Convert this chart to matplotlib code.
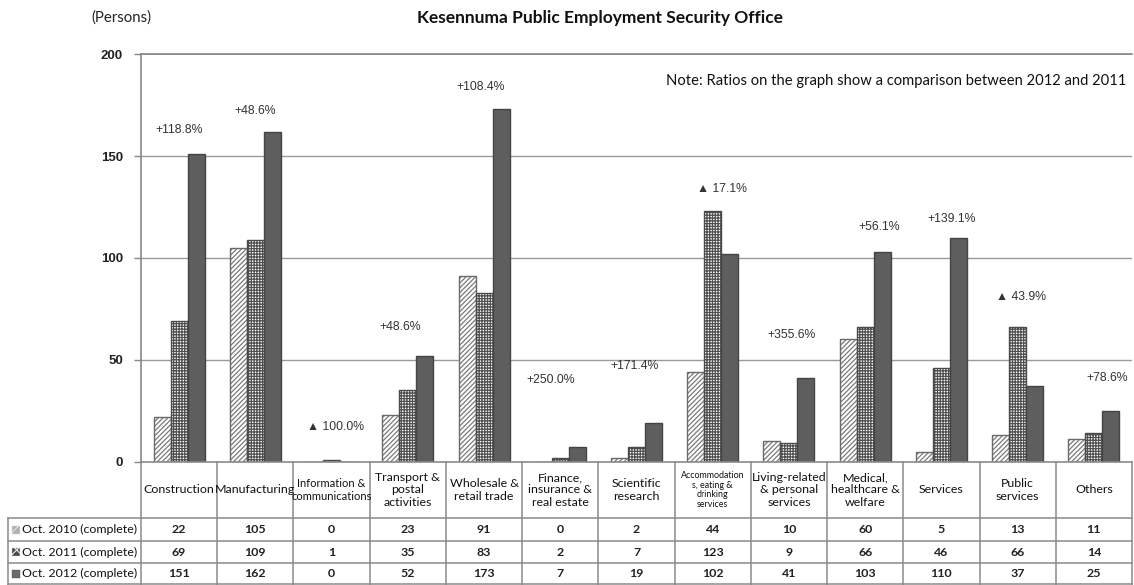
import matplotlib
matplotlib.use("Agg")
import matplotlib.pyplot as plt
from matplotlib.patches import Rectangle
import numpy as np

categories = ["Construction", "Manufacturing", "Information &\ncommunications",
              "Transport &\npostal\nactivities", "Wholesale &\nretail trade",
              "Finance,\ninsurance &\nreal estate", "Scientific\nresearch",
              "Accommodation\ns, eating &\ndrinking\nservices",
              "Living-related\n& personal\nservices", "Medical,\nhealthcare &\nwelfare",
              "Services", "Public\nservices", "Others"]
series_names = ["Oct. 2010 (complete)", "Oct. 2011 (complete)", "Oct. 2012 (complete)"]
oct2010 = [22, 105, 0, 23, 91, 0, 2, 44, 10, 60, 5, 13, 11]
oct2011 = [69, 109, 1, 35, 83, 2, 7, 123, 9, 66, 46, 66, 14]
oct2012 = [151, 162, 0, 52, 173, 7, 19, 102, 41, 103, 110, 37, 25]
ratio_labels = ["+118.8%", "+48.6%", "▲ 100.0%", "+48.6%", "+108.4%", "+250.0%",
                "+171.4%", "▲ 17.1%", "+355.6%", "+56.1%", "+139.1%", "▲ 43.9%", "+78.6%"]
yticks = [0, 50, 100, 150, 200]

# layout for ratio annotations (data-unit heights and x offsets)
ratio_y = [163, 172, 17, 66, 184, 40, 47, 134, 62, 115, 119, 81, 41]
ratio_dx = [0.0, 0.0, 0.05, -0.1, -0.04, -0.13, -0.03, 0.12, 0.04, 0.19, 0.14, 0.04, 0.18]

plt.rcParams["hatch.linewidth"] = 0.9

W, H = 1134, 585
fig = plt.figure(figsize=(W / 100, H / 100), dpi=100)
left_px, right_px, top_px, base_px = 141, 1132, 54.3, 461.7
ax = fig.add_axes([left_px / W, 1 - base_px / H, (right_px - left_px) / W, (base_px - top_px) / H])

n = len(categories)
x = np.arange(n)
bw = 0.223
grid_c = "#9a9a9a"

for yv in yticks[1:]:
    ax.axhline(yv, color="#888888" if yv == 200 else grid_c, lw=1.2 if yv == 200 else 1.0, zorder=0)

# 2010 bars: diagonal hatch
ax.bar(x - bw, oct2010, bw, facecolor="white", edgecolor="#7a7a7a", hatch="///////", lw=0, zorder=2)
ax.bar(x - bw, oct2010, bw, facecolor="none", edgecolor="#6a6a6a", lw=1.0, zorder=3)
# 2011 bars: checker
ax.bar(x, oct2011, bw, facecolor="white", edgecolor="#505050", hatch="++++++", lw=0, zorder=2)
ax.bar(x, oct2011, bw, facecolor="none", edgecolor="#4a4a4a", lw=1.0, zorder=3)
# 2012 bars: dark solid
ax.bar(x + bw, oct2012, bw, facecolor="#5e5e5e", edgecolor="#444444", lw=1.0, zorder=3)

pct_font = ["Liberation Sans Narrow", "Liberation Sans", "DejaVu Sans"]
for i, lab in enumerate(ratio_labels):
    ax.text(i + ratio_dx[i], ratio_y[i], lab, ha="center", va="center", fontsize=8.8,
            color="#333333", family=pct_font, zorder=4)

ax.text(0.994, 0.935, "Note: Ratios on the graph show a comparison between 2012 and 2011",
        transform=ax.transAxes, ha="right", va="center", fontsize=10.6, family="Lato", color="#111111")

ax.set_xlim(-0.5, n - 0.5)
ax.set_ylim(0, 200)
ax.set_xticks([])
ax.set_yticks(yticks)
ax.set_yticklabels([str(v) for v in yticks], fontsize=9.5, fontweight="bold",
                   family=pct_font, color="#222222")
ax.tick_params(axis="y", length=5, width=1.0, color="#888888", pad=8)
for s in ["right", "bottom"]:
    ax.spines[s].set_visible(False)
ax.spines["left"].set_color("#888888")
ax.spines["left"].set_linewidth(1.2)
ax.spines["top"].set_color("#888888")
ax.spines["top"].set_linewidth(1.2)

# ---- table below the plot (x in category units, y in pixels below baseline) ----
tab_h = H - base_px
tax = fig.add_axes([left_px / W, 0, (right_px - left_px) / W, tab_h / H])
tax.set_xlim(-0.5, n - 0.5)
tax.set_ylim(tab_h, 0)
tax.axis("off")
colw_px = (right_px - left_px) / n
lab_left = -0.5 - (left_px - 8) / colw_px
line_c = "#8a8a8a"
row_edges = [0, 56.5, 79.5, 101.5, tab_h - 0.6]

for xv in np.arange(-0.5, n, 1.0):
    tax.plot([xv, xv], [0, tab_h], color=line_c, lw=1.1, clip_on=False)
tax.plot([lab_left, lab_left], [row_edges[1], tab_h], color=line_c, lw=1.1, clip_on=False)
tax.plot([-0.5, n - 0.5], [0, 0], color=line_c, lw=1.2, clip_on=False)
for ye in row_edges[1:]:
    tax.plot([lab_left, n - 0.5], [ye, ye], color=line_c, lw=1.1, clip_on=False)

tfont = "Lato"
for i, c in enumerate(categories):
    small = c.startswith("Accommodation")
    fs = 6.4 if small else (8.0 if c.startswith("Information") else 8.9)
    tax.text(i, row_edges[1] / 2, c, ha="center", va="center", fontsize=fs,
             family=tfont, color="#111111", linespacing=1.15 if not small else 1.1)

series = [oct2010, oct2011, oct2012]
sw_face = ["#b0b0b0", "#4a4a4a", "#6a6a6a"]
sw_hatch = ["///", "xx", None]
for r, (name, vals) in enumerate(zip(series_names, series)):
    yc = (row_edges[r + 1] + row_edges[r + 2]) / 2
    sw_w = 8 / colw_px
    tax.add_patch(Rectangle((lab_left + 4 / colw_px, yc - 4), sw_w, 8, facecolor=sw_face[r],
                            edgecolor="#dddddd" if sw_hatch[r] else "#555555",
                            hatch=sw_hatch[r], lw=0.3, clip_on=False))
    tax.text(-0.5 - 4 / colw_px, yc, name, ha="right", va="center", fontsize=8.9,
             family=tfont, color="#111111", clip_on=False)
    for i, v in enumerate(vals):
        tax.text(i, yc, str(v), ha="center", va="center", fontsize=8.9,
                 family=tfont, fontweight="bold", color="#222222")

fig.text(600 / W, 1 - 18 / H, "Kesennuma Public Employment Security Office", ha="center",
         va="center", fontsize=12.5, fontweight="bold", family="Lato", color="#111111")
fig.text(121 / W, 1 - 18 / H, "(Persons)", ha="center", va="center", fontsize=10.8,
         family="Lato", color="#222222")

fig.savefig("out.png", dpi=100)
